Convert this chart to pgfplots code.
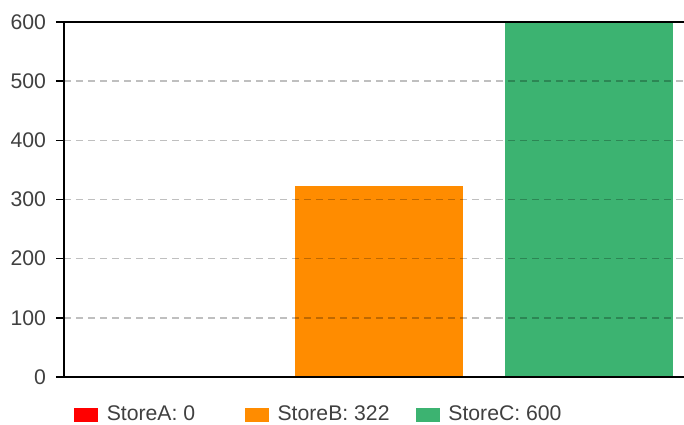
\documentclass[border=0pt]{standalone}
\usepackage{fontspec}
\setmainfont{Liberation Sans}
\usepackage{pgfplots}
\pgfplotsset{compat=1.18}
\definecolor{storeA}{HTML}{FF0000}
\definecolor{storeB}{HTML}{FF8C00}
\definecolor{storeC}{HTML}{3CB371}
\definecolor{labelgray}{HTML}{404040}
\begin{document}
\begin{tikzpicture}
\useasboundingbox (-32pt,-23.5pt) rectangle (310pt,188.5pt);
\begin{axis}[
  at={(0,0)}, anchor=south west,
  scale only axis,
  width=315pt, height=177.5pt,
  xmin=-0.5, xmax=2.5,
  ymin=0, ymax=600,
  ytick={0,100,...,600},
  xtick=\empty,
  /pgf/number format/assume math mode=true,
  font=\fontsize{10.6}{12.5}\selectfont,
  ticklabel style={text=labelgray},
  yticklabel style={xshift=-1.5pt},
  tick align=outside,
  major tick length=4pt,
  y tick style={line width=0.8pt, black},
  axis line style={line width=1pt},
  ymajorgrids,
  major grid style={dash pattern=on 3.5pt off 2.5pt, line width=0.75pt, black, opacity=0.25},
  axis on top,
  ybar, bar width=0.8, bar shift=0pt,
  area legend,
  legend image code/.code={\fill[#1] (0pt,-3.5pt) rectangle (12pt,3.5pt);},
  legend columns=3,
  legend style={
    at={(0,0)}, anchor=west, xshift=5pt, yshift=-19pt,
    draw=none, fill=none, font=\fontsize{10.6}{12.5}\selectfont,
    text=labelgray, inner sep=0pt,
    /tikz/every odd column/.append style={column sep=2pt},
    /tikz/every even column/.append style={column sep=0pt},
    nodes={inner sep=2.2pt},
  },
]
\addplot[fill=storeA, draw=none] coordinates {(0,0)};
\addlegendentry{\makebox[67pt][l]{StoreA: 0}}
\addplot[fill=storeB, draw=none] coordinates {(1,322)};
\addlegendentry{\makebox[67pt][l]{StoreB: 322}}
\addplot[fill=storeC, draw=none] coordinates {(2,600)};
\addlegendentry{StoreC: 600}
\end{axis}
\end{tikzpicture}
\end{document}
